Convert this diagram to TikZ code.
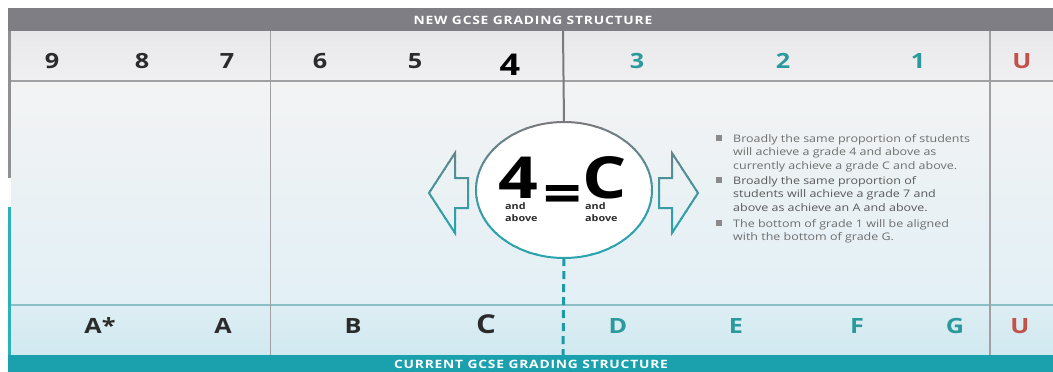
\documentclass[tikz,border=0pt]{standalone}
\usepackage{fontspec}
\setmainfont{Open Sans}[FakeStretch=1.2]
\usetikzlibrary{shapes.geometric}
\definecolor{bargrey}{HTML}{7E7E84}
\definecolor{barteal}{HTML}{1BA1AE}
\definecolor{rowtop}{HTML}{E8E8EA}
\definecolor{rowbot}{HTML}{F0F0F2}
\definecolor{midtop}{HTML}{F3F3F4}
\definecolor{midbot}{HTML}{E2F0F5}
\definecolor{btop}{HTML}{DDEEF3}
\definecolor{bbot}{HTML}{D0E9F0}
\definecolor{gridgrey}{HTML}{A0A0A2}
\definecolor{gridteal}{HTML}{8CBFC5}
\definecolor{darktxt}{HTML}{2B2B2B}
\definecolor{tealtxt}{HTML}{2A9A9C}
\definecolor{ured}{HTML}{C4504A}
\definecolor{bullettxt}{HTML}{6E6E6E}
\definecolor{bulletsq}{HTML}{8A8A8A}
\definecolor{dashteal}{HTML}{1E9AA6}
\definecolor{ringgrey}{HTML}{7A7A7E}
\definecolor{ringteal}{HTML}{2AA3AD}
\definecolor{bordergrey}{HTML}{909094}
\definecolor{borderteal}{HTML}{2BB0BC}
\tikzset{
  grade/.style={font=\bfseries\fontsize{21}{21}\selectfont, text=darktxt, anchor=base, inner sep=0},
  bigrade/.style={grade, font=\bfseries\fontsize{30}{30}\selectfont, text=black},
  tgrade/.style={grade, text=tealtxt},
  ugrade/.style={grade, text=ured},
  title/.style={font=\bfseries\fontsize{11.5}{11.5}\selectfont\addfontfeature{LetterSpace=7}, text=white, inner sep=0},
  bigsym/.style={font=\bfseries\fontsize{58}{58}\selectfont, text=black, inner sep=0, anchor=base, text depth=0pt},
  andabove/.style={font=\bfseries\fontsize{9}{12}\selectfont, text=darktxt, inner sep=0, anchor=north west, align=left},
  bullettext/.style={anchor=north west, align=left, inner sep=0, font=\fontsize{10.4}{13.5}\selectfont, text=bullettxt},
  bsq/.style={fill=bulletsq, minimum size=5.5pt, inner sep=0},
  gridline/.style={draw=gridgrey, line width=1.2pt},
  tealdash/.style={draw=dashteal, line width=3pt, dash pattern=on 8pt off 5pt},
}
\begin{document}
\begin{tikzpicture}[x=1pt,y=-1pt]
\useasboundingbox (0,0) rectangle (1053,372);
\fill[white] (0,0) rectangle (1053,372);
% backgrounds
\shade[top color=rowtop, bottom color=rowbot] (11,31) rectangle (1053,81);
\shade[top color=midtop, middle color=white, bottom color=midbot] (11,81) rectangle (1053,305);
\shade[top color=btop, bottom color=bbot] (11,305) rectangle (1053,355);
% bars
\fill[bargrey] (8,8) rectangle (1053,31);
\node[title] (newt) at (533,20) {NEW GCSE GRADING STRUCTURE};
\fill[barteal] (8,355) rectangle (1053,372);
\node[title] (curt) at (531,364) {CURRENT GCSE GRADING STRUCTURE};
% left border
\draw[line width=3pt, bordergrey] (9.5,31) -- (9.5,178);
\draw[line width=3pt, borderteal] (9.5,207) -- (9.5,355);
% grid lines
\draw[gridline] (11,81) -- (1053,81);
\draw[draw=gridteal, line width=1.2pt] (11,305) -- (1053,305);
\draw[gridline, line width=1pt] (270,31) -- (270,355);
\draw[gridline, line width=1.5pt] (990,31) -- (990,355);
% central ellipse
\coordinate (mtop) at (563,31);
\coordinate (mbot) at (563,355);
\node[ellipse, minimum width=176pt, minimum height=136pt, inner sep=0] (eq) at (564,190) {};
\draw[draw=ringgrey, line width=2pt] (mtop) -- (eq.north);
\draw[tealdash] (eq.south) -- (mbot);
\fill[white] (eq.center) ellipse [x radius=88pt, y radius=68pt];
\foreach \i in {0,...,19}{
  \pgfmathtruncatemacro\p{min(100,\i*7)}
  \begin{scope}
    \clip (400,{120+\i*7}) rectangle (730,{127.5+\i*7});
    \draw[line width=2pt, draw=ringteal!\p!ringgrey] (eq.center) ellipse [x radius=88pt, y radius=68pt];
    \draw[line width=2pt, draw=ringteal!\p!ringgrey, line join=miter]
      (429,193) -- (455,153) -- (455,178) -- (468,178) -- (468,208) -- (455,208) -- (455,233) -- cycle;
    \draw[line width=2pt, draw=ringteal!\p!ringgrey, line join=miter]
      (698,193) -- (672,153) -- (672,178) -- (659,178) -- (659,208) -- (672,208) -- (672,233) -- cycle;
  \end{scope}
}
\node[bigsym] (four) at (518,198) {4};
\node[bigsym, font=\bfseries\fontsize{56}{56}\selectfont] (eqs) at (563,213) {=};
\node[bigsym] (cee) at (605,198) {C};
\node[andabove] (ab1) at (505,202) {and\\above};
\node[andabove] (ab2) at (585,202) {and\\above};
% top grades
\node[grade] (g9) at (52,68) {9};
\node[grade] (g8) at (142,68) {8};
\node[grade] (g7) at (227,68) {7};
\node[grade] (g6) at (320,68) {6};
\node[grade] (g5) at (415,68) {5};
\node[bigrade] (g4) at (510,75) {4};
\node[tgrade] (g3) at (637,68) {3};
\node[tgrade] (g2) at (783,68) {2};
\node[tgrade] (g1) at (918,68) {1};
\node[ugrade] (gu) at (1022,68) {U};
% bottom grades
\node[grade] (gas) at (100,333) {A*};
\node[grade] (ga) at (223,333) {A};
\node[grade] (gb) at (353,333) {B};
\node[bigrade, font=\bfseries\fontsize{26}{26}\selectfont, text=darktxt] (gc) at (486,333) {C};
\node[tgrade] (gd) at (618,333) {D};
\node[tgrade] (ge) at (736,333) {E};
\node[tgrade] (gf) at (857,333) {F};
\node[tgrade] (gg) at (955,333) {G};
\node[ugrade] (gu2) at (1020,333) {U};
% bullets
\node[bsq] (s1) at (719,138) {};
\node[bullettext] (b1) at (733,134) {Broadly the same proportion of students\\will achieve a grade 4 and above as\\currently achieve a grade C and above.};
\node[bsq] (s2) at (719,180) {};
\node[bullettext, text=bullettxt!80!black] (b2) at (733,176) {Broadly the same proportion of\\students will achieve a grade 7 and\\above as achieve an A and above.};
\node[bsq] (s3) at (719,223) {};
\node[bullettext] (b3) at (733,219) {The bottom of grade 1 will be aligned\\with the bottom of grade G.};
\end{tikzpicture}
\end{document}
